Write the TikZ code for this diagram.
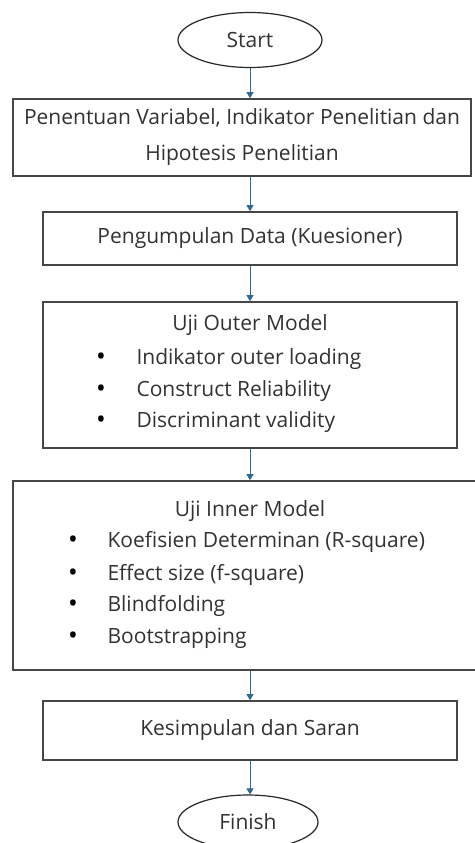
\documentclass[tikz,border=0pt]{standalone}
\usepackage{fontspec}
\setmainfont{Open Sans}
\usetikzlibrary{shapes.geometric,arrows.meta}
\definecolor{boxgray}{RGB}{70,70,70}
\definecolor{arrowblue}{RGB}{45,105,145}
\definecolor{txtgray}{RGB}{50,50,50}

\begin{document}
\begin{tikzpicture}[x=1pt,y=-1pt,
    font=\fontsize{21}{36}\selectfont, text=txtgray,
    box/.style={draw=boxgray, line width=1.6pt, rectangle, inner sep=0pt},
    term/.style={draw=black!85, ellipse, line width=1.2pt, inner sep=0pt},
    bul/.style={font=\fontsize{26}{26}\selectfont, text=black},
    flow/.style={draw=arrowblue, line width=0.9pt, -{Triangle[length=6pt,width=7pt]}}]
\useasboundingbox (0,0) rectangle (474,843);

% terminals
\node (start) at (250,40) [term, minimum width=144pt, minimum height=55pt] {Start};
\node (finish) at (248,822) [term, minimum width=140pt, minimum height=54pt] {Finish};

% process boxes
\node (var) at (242,137.5) [box, minimum width=458pt, minimum height=77pt, align=center]
    {Penentuan Variabel, Indikator Penelitian dan\\Hipotesis Penelitian};
\node (data) at (250,238.5) [box, minimum width=414pt, minimum height=53pt] {Pengumpulan Data (Kuesioner)};
\node (outer) at (250,375) [box, minimum width=414pt, minimum height=146pt] {};
\node (inner) at (250,575.5) [box, minimum width=474pt, minimum height=189pt] {};
\node (simp) at (250,730.5) [box, minimum width=414pt, minimum height=59pt] {Kesimpulan dan Saran};

% Uji Outer Model
\node (outert) at (250,325) {Uji Outer Model};
\foreach \y/\txt in {359/Indikator outer loading,391/Construct Reliability,422/Discriminant validity} {
    \node (ob\y) at (101,\y) [bul] {\textbullet};
    \node (oi\y) at (133,\y) [anchor=west] {\txt};
}

% Uji Inner Model
\node (innert) at (250,511) {Uji Inner Model};
\foreach \y/\txt in {542/Koefisien Determinan (R-square),575/Effect size (f-square),606/Blindfolding,638/Bootstrapping} {
    \node (ib\y) at (73,\y) [bul] {\textbullet};
    \node (ii\y) at (104,\y) [anchor=west] {\txt};
}

% arrows
\draw[flow] (start.south) -- (start.south |- var.north);
\draw[flow] (start.south |- var.south) -- (data.north);
\draw[flow] (data.south) -- (outer.north);
\draw[flow] (outer.south) -- (inner.north);
\draw[flow] (inner.south) -- (simp.north);
\draw[flow] (simp.south) -- (simp.south |- finish.north);
\end{tikzpicture}
\end{document}
